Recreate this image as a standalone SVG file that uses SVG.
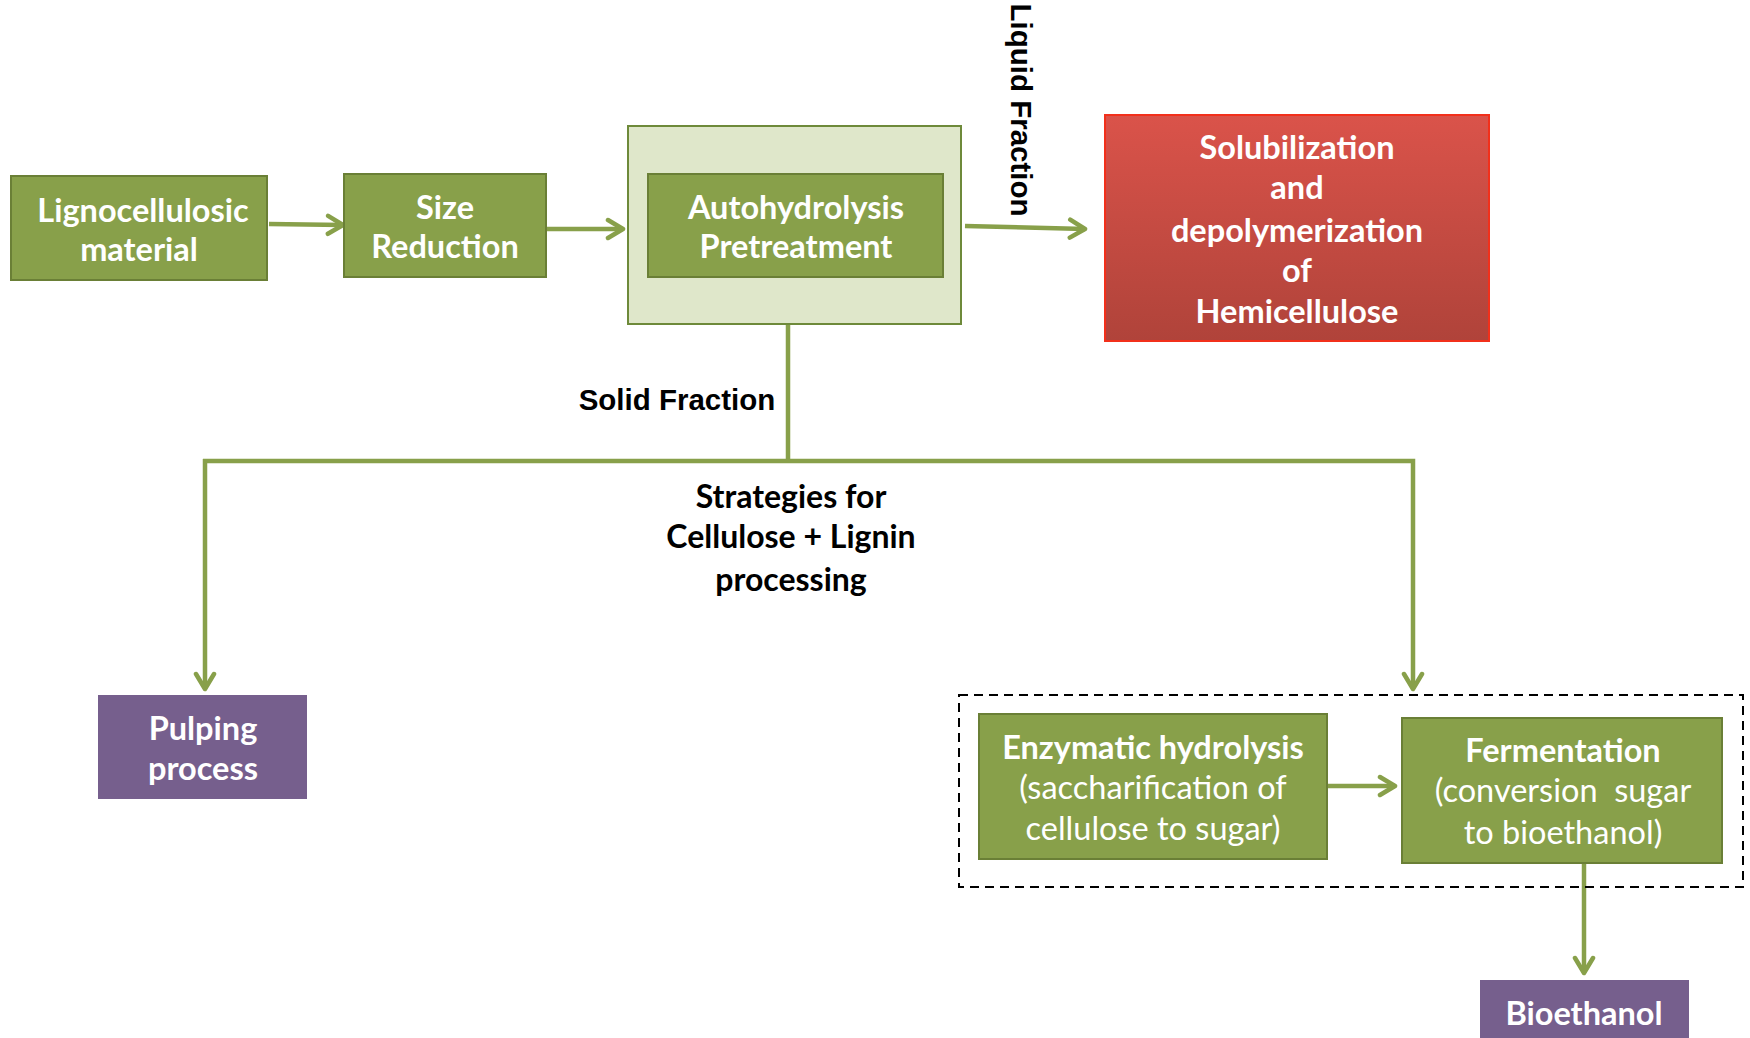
<svg xmlns="http://www.w3.org/2000/svg" width="1750" height="1038" viewBox="0 0 1750 1038">
<defs>
<linearGradient id="red" x1="0" y1="0" x2="0" y2="1">
<stop offset="0" stop-color="#DA534A"/>
<stop offset="1" stop-color="#B0433A"/>
</linearGradient>
<marker id="ah" viewBox="0 0 24 24" refX="21" refY="12" markerWidth="24" markerHeight="24" markerUnits="userSpaceOnUse" orient="auto">
<path d="M6,3 L21,12 L6,21" fill="none" stroke="#88A04A" stroke-width="4.5" stroke-linecap="round" stroke-linejoin="round"/>
</marker>
<style>
.g{fill:#88A04A;stroke:#6A7F36;stroke-width:2}
.lg{fill:#DFE7CA;stroke:#6E8A3A;stroke-width:2}
.p{fill:#765F8D}
.w{fill:#fff;font-family:Lato,"Open Sans",sans-serif;font-weight:bold;font-size:32.5px;text-anchor:middle}
.wr{fill:#fff;font-family:Lato,"Open Sans",sans-serif;font-weight:normal;font-size:32.5px;text-anchor:middle}
.k{fill:#000;font-family:"Liberation Sans",Arial,sans-serif;font-weight:bold;font-size:29.5px;text-anchor:middle}
.kc{fill:#000;font-family:Lato,"Open Sans",sans-serif;font-weight:bold;font-size:32px;text-anchor:middle}
.c{fill:none;stroke:#88A04A;stroke-width:4.5}
</style>
</defs>
<rect width="1750" height="1038" fill="#fff"/>

<g id="connectors">
<line class="c" x1="269" y1="224" x2="343" y2="225" marker-end="url(#ah)"/>
<line class="c" x1="547" y1="229" x2="623" y2="229" marker-end="url(#ah)"/>
<line class="c" x1="965" y1="226" x2="1085" y2="229" marker-end="url(#ah)"/>
<line class="c" x1="788" y1="324" x2="788" y2="461"/>
<path class="c" d="M203,461 L1413,461 L1413,689" stroke-linejoin="miter" marker-end="url(#ah)"/>
<line class="c" x1="205" y1="459" x2="205" y2="689" marker-end="url(#ah)"/>
<line class="c" x1="1328" y1="786" x2="1395" y2="786" marker-end="url(#ah)"/>
<line class="c" x1="1584" y1="863" x2="1584" y2="973" marker-end="url(#ah)"/>
<text class="k" transform="translate(1011,110) rotate(90)">Liquid Fraction</text>
<text class="k" x="677" y="410">Solid Fraction</text>
<text class="kc" x="791" y="508">Strategies for</text>
<text class="kc" x="791" y="548">Cellulose + Lignin</text>
<text class="kc" x="791" y="591">processing</text>
</g>

<g id="lignocellulosic">
<rect class="g" x="11" y="176" width="256" height="104"/>
<text class="w" x="143" y="222">Lignocellulosic</text>
<text class="w" x="139" y="261">material</text>
</g>

<g id="size-reduction">
<rect class="g" x="344" y="174" width="202" height="103"/>
<text class="w" x="445" y="219">Size</text>
<text class="w" x="445" y="258">Reduction</text>
</g>

<g id="autohydrolysis">
<rect class="lg" x="628" y="126" width="333" height="198"/>
<rect class="g" x="648" y="174" width="295" height="103"/>
<text class="w" x="796" y="219">Autohydrolysis</text>
<text class="w" x="796" y="258">Pretreatment</text>
</g>

<g id="hemicellulose">
<rect x="1105" y="115" width="384" height="226" fill="url(#red)" stroke="#F2301B" stroke-width="2"/>
<text class="w" x="1297" y="159">Solubilization</text>
<text class="w" x="1297" y="199">and</text>
<text class="w" x="1297" y="242">depolymerization</text>
<text class="w" x="1297" y="282">of</text>
<text class="w" x="1297" y="323">Hemicellulose</text>
</g>

<g id="pulping">
<rect class="p" x="98" y="695" width="209" height="104"/>
<text class="w" x="203" y="740">Pulping</text>
<text class="w" x="203" y="780">process</text>
</g>

<g id="dashed-group">
<rect x="959" y="695" width="784" height="192" fill="none" stroke="#000" stroke-width="2" stroke-dasharray="9,6"/>
</g>

<g id="enzymatic">
<rect class="g" x="979" y="714" width="348" height="145"/>
<text class="w" x="1153" y="759">Enzymatic hydrolysis</text>
<text class="wr" x="1153" y="799">(saccharification of</text>
<text class="wr" x="1153" y="840">cellulose to sugar)</text>
</g>

<g id="fermentation">
<rect class="g" x="1402" y="718" width="320" height="145"/>
<text class="w" x="1563" y="762">Fermentation</text>
<text class="wr" x="1563" y="802" xml:space="preserve">(conversion  sugar</text>
<text class="wr" x="1563" y="844">to bioethanol)</text>
</g>

<g id="bioethanol">
<rect class="p" x="1480" y="980" width="209" height="70"/>
<text class="w" x="1584" y="1025">Bioethanol</text>
</g>
</svg>
